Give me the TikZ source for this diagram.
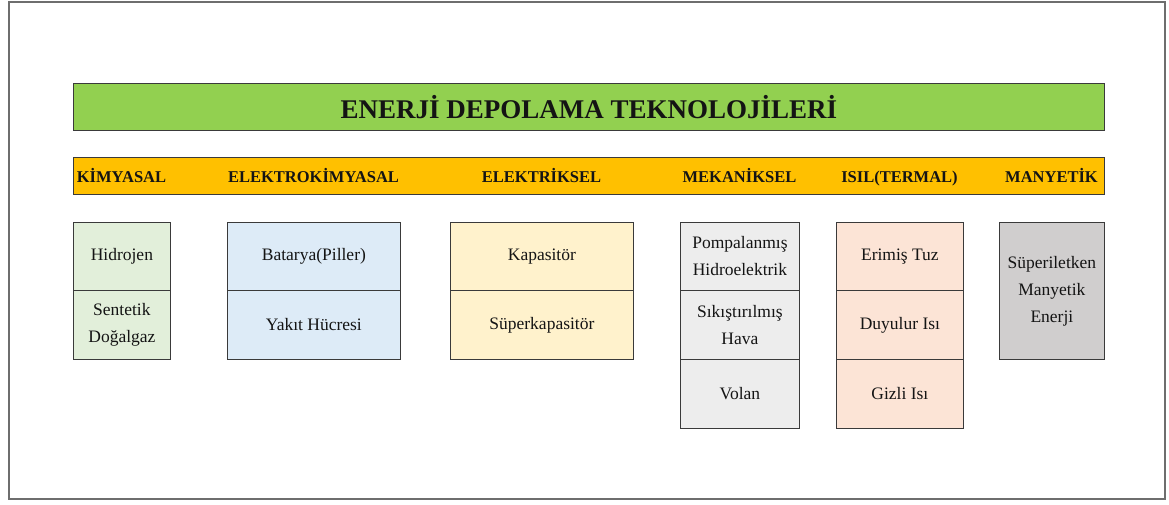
\documentclass[tikz,border=0pt]{standalone}
\usepackage{fontspec}
\setmainfont{Liberation Serif}
\definecolor{titlegreen}{HTML}{92D050}
\definecolor{barorange}{HTML}{FFC000}
\definecolor{kimcol}{HTML}{E2EFDA}
\definecolor{ekcol}{HTML}{DDEBF7}
\definecolor{elcol}{HTML}{FFF2CC}
\definecolor{mecol}{HTML}{EDEDED}
\definecolor{iscol}{HTML}{FCE4D6}
\definecolor{macol}{HTML}{D0CECE}
\definecolor{edgecol}{HTML}{3A3A3A}
\definecolor{framecol}{HTML}{6E6E6E}
\definecolor{txtcol}{HTML}{141414}
\begin{document}
\begin{tikzpicture}[x=1pt,y=-1pt,
  barbox/.style={draw=edgecol, line width=0.9pt, anchor=north west, inner sep=0pt, minimum width=1031pt},
  catlabel/.style={text=txtcol, font=\fontsize{16.5}{20}\selectfont\bfseries, inner sep=0pt, anchor=base},
  cell/.style={draw=edgecol, line width=0.8pt, anchor=north west, inner sep=0pt, align=center, text=txtcol,
               font=\fontsize{17.5}{27}\selectfont},
]
\useasboundingbox (0,0) rectangle (1169,504);
\draw[line width=2pt, draw=framecol] (9,1.5) rectangle (1164.5,499);

% title bar
\node[barbox, fill=titlegreen, minimum height=47pt, text=txtcol,
      font=\fontsize{27}{32}\selectfont\bfseries] (title) at (73,83) {ENERJİ DEPOLAMA TEKNOLOJİLERİ};

% category bar
\node[barbox, fill=barorange, minimum height=37pt] (catbar) at (73,157) {};
\node[catlabel] (ckim) at (121.5,182.5) {KİMYASAL};
\node[catlabel] (cek)  at (313.5,182.5) {ELEKTROKİMYASAL};
\node[catlabel] (cel)  at (541.5,182.5) {ELEKTRİKSEL};
\node[catlabel] (cme)  at (739.5,182.5) {MEKANİKSEL};
\node[catlabel] (cis)  at (899.5,182.5) {ISIL(TERMAL)};
\node[catlabel] (cma)  at (1051.5,182.5) {MANYETİK};

% KİMYASAL
\node[cell, fill=kimcol, minimum width=97pt, minimum height=68pt] (kim1) at (73,222) {Hidrojen};
\node[cell, fill=kimcol, minimum width=97pt, minimum height=69pt] (kim2) at (73,290) {Sentetik\\Doğalgaz};

% ELEKTROKİMYASAL
\node[cell, fill=ekcol, minimum width=173pt, minimum height=68pt] (ek1) at (227,222) {Batarya(Piller)};
\node[cell, fill=ekcol, minimum width=173pt, minimum height=69pt] (ek2) at (227,290) {Yakıt Hücresi};

% ELEKTRİKSEL
\node[cell, fill=elcol, minimum width=183pt, minimum height=68pt] (el1) at (450,222) {Kapasitör};
\node[cell, fill=elcol, minimum width=183pt, minimum height=69pt] (el2) at (450,290) {Süperkapasitör};

% MEKANİKSEL
\node[cell, fill=mecol, minimum width=119pt, minimum height=68pt] (me1) at (680,222) {Pompalanmış\\Hidroelektrik};
\node[cell, fill=mecol, minimum width=119pt, minimum height=69pt] (me2) at (680,290) {Sıkıştırılmış\\Hava};
\node[cell, fill=mecol, minimum width=119pt, minimum height=69pt] (me3) at (680,359) {Volan};

% ISIL
\node[cell, fill=iscol, minimum width=127pt, minimum height=68pt] (is1) at (836,222) {Erimiş Tuz};
\node[cell, fill=iscol, minimum width=127pt, minimum height=69pt] (is2) at (836,290) {Duyulur Isı};
\node[cell, fill=iscol, minimum width=127pt, minimum height=69pt] (is3) at (836,359) {Gizli Isı};

% MANYETİK
\node[cell, fill=macol, minimum width=105pt, minimum height=137pt] (ma1) at (999,222) {Süperiletken\\Manyetik\\Enerji};
\end{tikzpicture}
\end{document}
